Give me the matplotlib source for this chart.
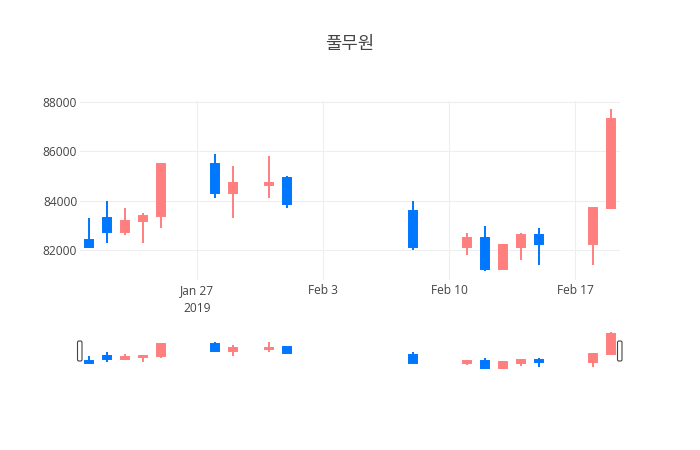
import matplotlib
matplotlib.use("Agg")
import matplotlib.pyplot as plt
import matplotlib.dates as mdates
from matplotlib.patches import FancyBboxPatch
import pandas as pd

# ---- data ----
dates = ["2019-01-21", "2019-01-22", "2019-01-23", "2019-01-24", "2019-01-25",
         "2019-01-28", "2019-01-29", "2019-01-31", "2019-02-01", "2019-02-08",
         "2019-02-11", "2019-02-12", "2019-02-13", "2019-02-14", "2019-02-15",
         "2019-02-18", "2019-02-19"]
opens = [82400, 83300, 82750, 83200, 83400,
         85500, 84300, 84650, 84900, 83600,
         82150, 82500, 81250, 82150, 82600,
         82250, 83700]
highs = [83300, 84000, 83700, 83500, 85500,
         85900, 85400, 85800, 85000, 84000,
         82700, 83000, 82250, 82700, 82900,
         83700, 87700]
lows = [82100, 82300, 82600, 82300, 82900,
        84100, 83300, 84100, 83700, 82000,
        81800, 81150, 81250, 81600, 81400,
        81400, 83700]
closes = [82150, 82750, 83200, 83400, 85500,
          84300, 84700, 84700, 83850, 82150,
          82500, 81250, 82200, 82600, 82250,
          83700, 87300]
title = "풀무원"
xtick_dates = ["2019-01-27", "2019-02-03", "2019-02-10", "2019-02-17"]
xtick_labels = ["Jan 27\n2019", "Feb 3", "Feb 10", "Feb 17"]
ytick_values = [82000, 84000, 86000, 88000]

INC = "#FF7F7F"
DEC = "#0077FF"
TXT = "#444444"
GRID = "#EEEEEE"

W, H = 700, 450
fig = plt.figure(figsize=(7, 4.5), dpi=100)
fig.patch.set_facecolor("white")

x = mdates.date2num(pd.to_datetime(dates))
xmin, xmax = x.min() - 0.5, x.max() + 0.5
pad = (max(highs) - min(lows)) * 0.05
ylo, yhi = min(lows) - pad, max(highs) + pad

top_px, bot_px = 101, 279.5
ax = fig.add_axes([80 / W, (H - bot_px) / H, 540 / W, (bot_px - top_px) / H])
rs = fig.add_axes([80 / W, 80 / H, 540 / W, 40 / H])


def draw(a, lw):
    for xi, o, h, l, c in zip(x, opens, highs, lows, closes):
        col = INC if c >= o else DEC
        a.vlines(xi, l, h, color=col, linewidth=lw, zorder=3)
        a.bar(xi, abs(c - o), bottom=min(o, c), width=0.45, color=col,
              edgecolor=col, linewidth=lw, zorder=4)


draw(ax, 1.4)
draw(rs, 1.4)

for a in (ax, rs):
    a.set_xlim(xmin, xmax)
    a.set_ylim(ylo, yhi)
    for s in a.spines.values():
        s.set_visible(False)
    a.set_facecolor("white")

ax.set_xticks(mdates.date2num(pd.to_datetime(xtick_dates)))
ax.set_xticklabels(xtick_labels, fontsize=8.64, color=TXT, family="Open Sans",
                   linespacing=1.5)
ax.set_yticks(ytick_values)
ax.set_yticklabels([str(v) for v in ytick_values], fontsize=8.64, color=TXT,
                   family="Open Sans")
ax.tick_params(axis="both", length=0)
ax.tick_params(axis="x", pad=3)
ax.tick_params(axis="y", pad=2)
ax.grid(True, color=GRID, linewidth=0.75, zorder=0)
ax.set_axisbelow(True)

rs.set_xticks([])
rs.set_yticks([])

# range slider grabbers
for gx in (77.5, 617.5):
    p = FancyBboxPatch((gx / 100, 0.89), 0.045, 0.20,
                       boxstyle="round,pad=0,rounding_size=0.015",
                       transform=fig.dpi_scale_trans, facecolor="white",
                       edgecolor="#444444", linewidth=0.8, zorder=10)
    fig.patches.append(p)

fig.text(0.5, 1 - 44.5 / H, title, ha="center", va="center", fontsize=12.8,
         color=TXT, family=["Noto Sans CJK KR", "DejaVu Sans"])

fig.savefig("out.png", dpi=100)
